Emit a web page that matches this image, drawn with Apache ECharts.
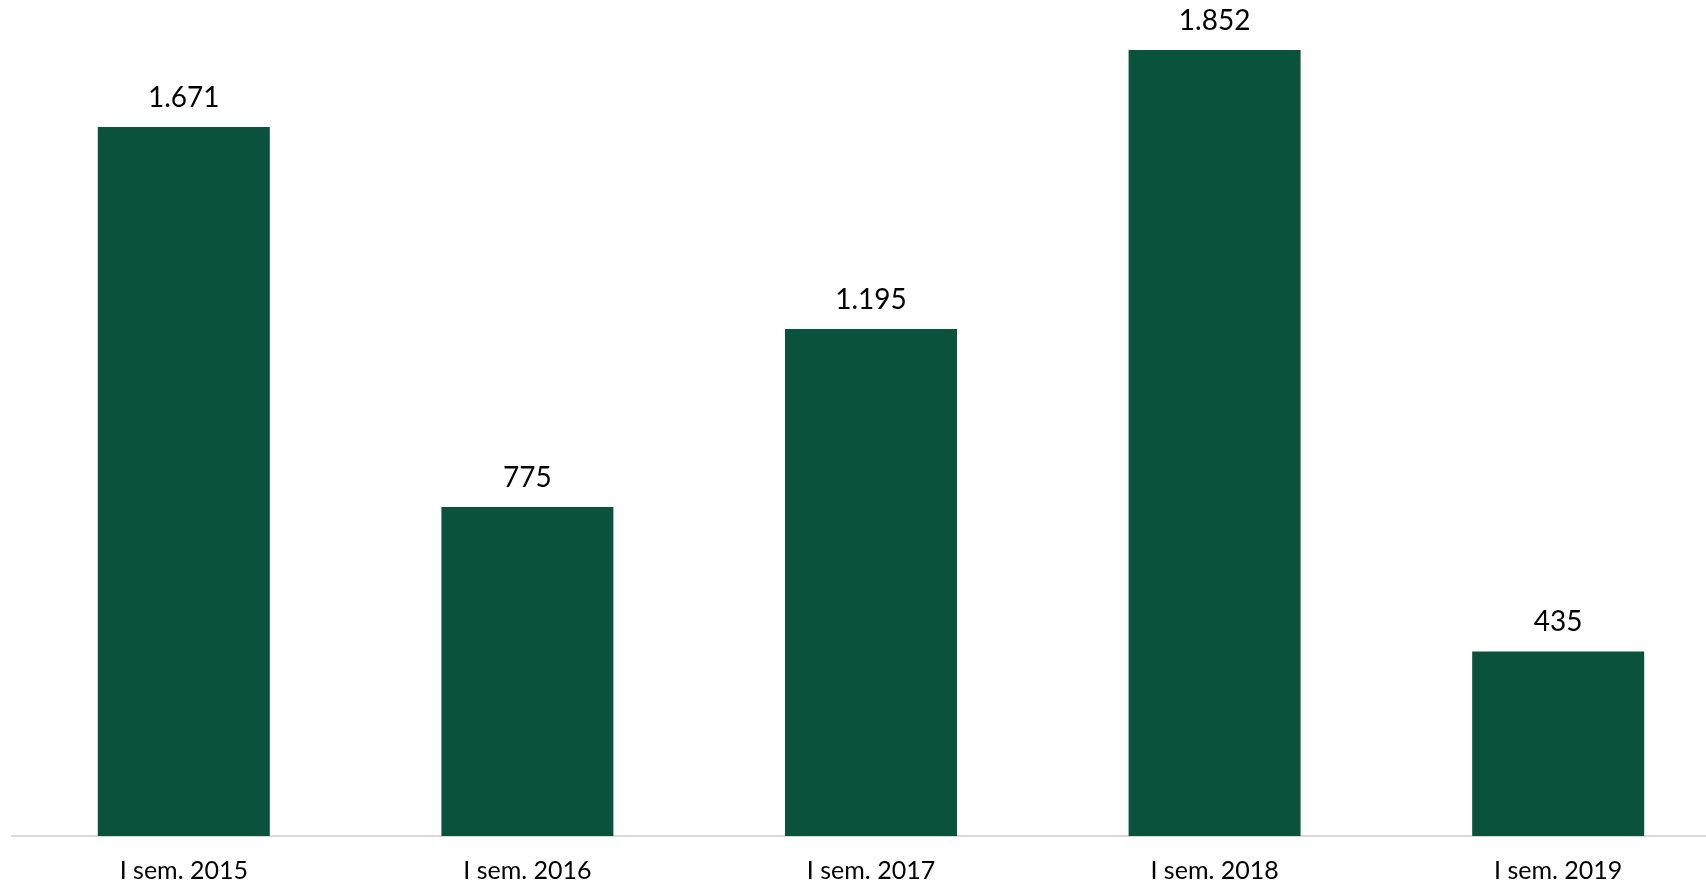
<!DOCTYPE html>
<html><head><meta charset="utf-8">
<script src="https://cdn.jsdelivr.net/npm/echarts@6/dist/echarts.min.js"></script>
<style>html,body{margin:0;padding:0;background:#fff;overflow:hidden}#c{width:1730px;height:886px}</style>
</head><body><div id="c"></div>
<script>
const categories = ["I sem. 2015","I sem. 2016","I sem. 2017","I sem. 2018","I sem. 2019"];
const values = [1671, 775, 1195, 1852, 435];
const chart = echarts.init(document.getElementById('c'));
const fmt = v => String(v).replace(/\B(?=(\d{3})+(?!\d))/g, '.');
chart.setOption({
  animation: false,
  grid: {left: 12, right: 0, top: 0, bottom: 50, outerBoundsMode: 'none', containLabel: false},
  xAxis: {type: 'category', data: categories,
    axisLine: {lineStyle: {color: '#d9d9d9', width: 2}}, axisTick: {show: false},
    axisLabel: {fontFamily: 'Lato, "Open Sans", sans-serif', fontSize: 25, color: '#000', margin: 22}},
  yAxis: {type: 'value', min: 0, max: 1970, show: false, splitLine: {show: false}},
  series: [{type: 'bar', data: values, barWidth: 172, itemStyle: {color: '#0b523c'},
    label: {show: true, position: 'top', distance: 15, fontFamily: 'Lato, "Open Sans", sans-serif', fontSize: 28, color: '#000',
      formatter: p => fmt(p.value)}}]
});
</script></body></html>
